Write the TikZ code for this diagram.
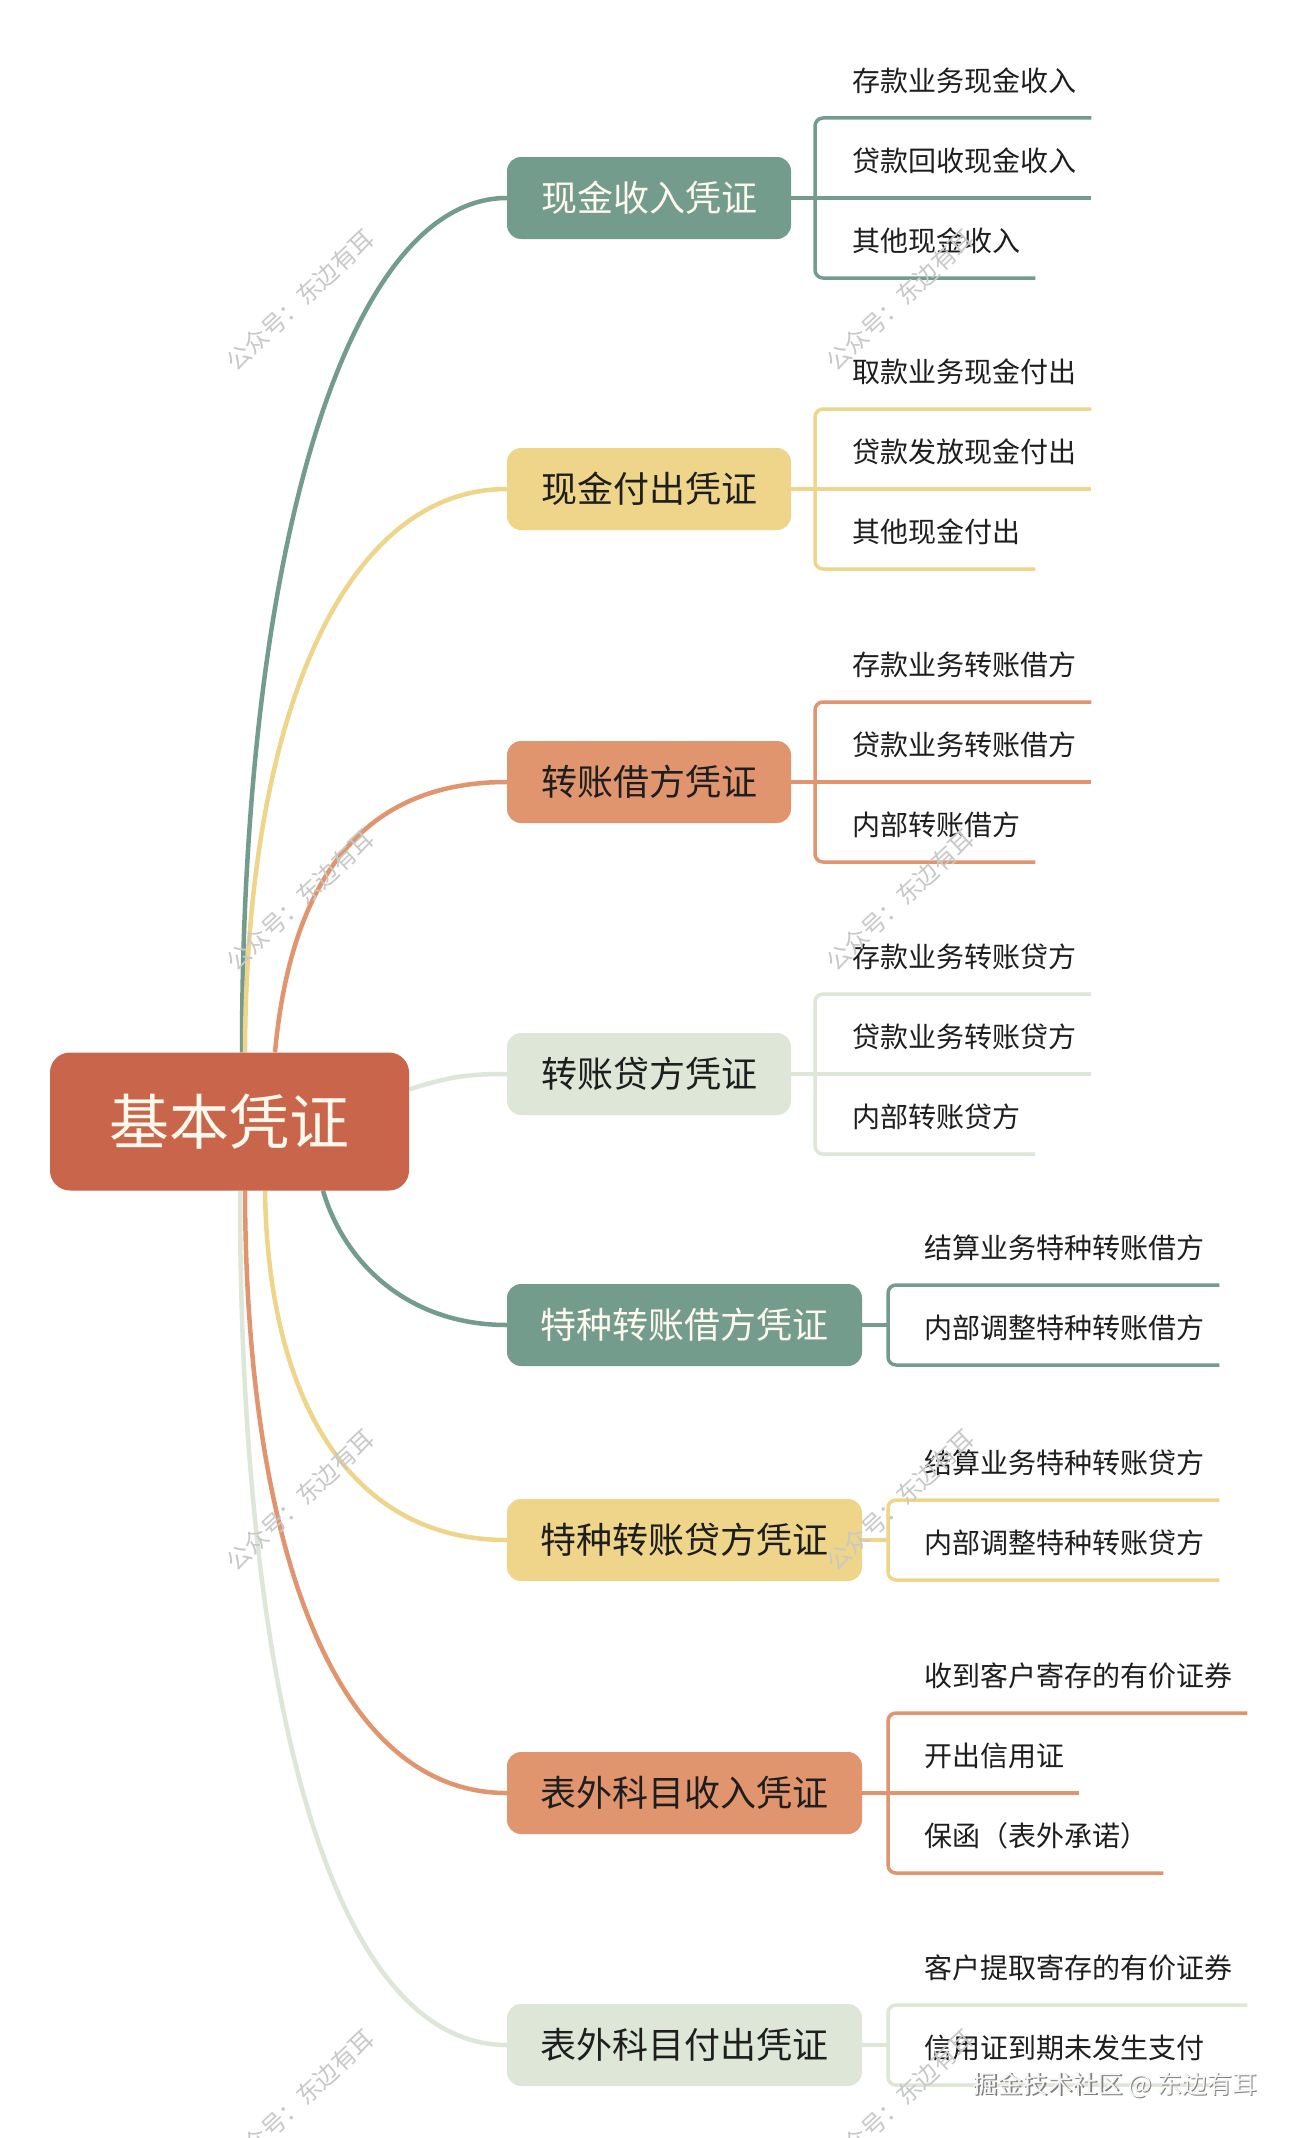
\documentclass[tikz,border=0pt]{standalone}
\usepackage{fontspec}
\newfontfamily\cjk{Noto Sans CJK SC}
\usetikzlibrary{backgrounds}
\definecolor{rootc}{HTML}{C9654B}
\definecolor{greenc}{HTML}{739C8D}
\definecolor{yellowc}{HTML}{EFD58A}
\definecolor{orangec}{HTML}{E1956F}
\definecolor{lightc}{HTML}{DEE6D8}
\definecolor{cream}{HTML}{FFF8EC}
\definecolor{leafc}{HTML}{1E1E1E}
\definecolor{wmc}{HTML}{C8C8C8}
\begin{document}
\begin{tikzpicture}[x=1pt,y=-1pt,
  rootbox/.style={fill=rootc, rounded corners=20pt, minimum width=359pt, minimum height=138pt, inner sep=0pt, text=cream, font=\cjk\fontsize{60}{60}\selectfont},
  lvone/.style={rounded corners=14pt, minimum height=82pt, inner sep=0pt, text=leafc, font=\cjk\fontsize{36}{36}\selectfont},
  lvshort/.style={lvone, minimum width=284pt},
  lvlong/.style={lvone, minimum width=355pt},
  leaf/.style={anchor=west, inner sep=0pt, text=leafc, font=\cjk\fontsize{28}{28}\selectfont},
  conn/.style={line width=4.5pt},
  under/.style={line width=3.5pt, rounded corners=8pt},
  wm/.style={rotate=43, text=wmc, inner sep=0pt, font=\cjk\fontsize{24}{24}\selectfont},
]
\useasboundingbox (0,0) rectangle (1298,2138);

% root and first level
\node[rootbox] (root) at (229.5,1121.5) {基本凭证};
\node[lvshort, fill=greenc, text=cream] (b1) at (649,198) {现金收入凭证};
\node[lvshort, fill=yellowc] (b2) at (649,489) {现金付出凭证};
\node[lvshort, fill=orangec] (b3) at (649,782) {转账借方凭证};
\node[lvshort, fill=lightc] (b4) at (649,1074) {转账贷方凭证};
\node[lvlong, fill=greenc, text=cream] (b5) at (684.5,1325) {特种转账借方凭证};
\node[lvlong, fill=yellowc] (b6) at (684.5,1540) {特种转账贷方凭证};
\node[lvlong, fill=orangec] (b7) at (684.5,1793) {表外科目收入凭证};
\node[lvlong, fill=lightc] (b8) at (684.5,2045) {表外科目付出凭证};

% leaves
\node[leaf] (c11) at (852,81) {存款业务现金收入};
\node[leaf] (c12) at (852,161) {贷款回收现金收入};
\node[leaf] (c13) at (852,241) {其他现金收入};
\node[leaf] (c21) at (852,372) {取款业务现金付出};
\node[leaf] (c22) at (852,452) {贷款发放现金付出};
\node[leaf] (c23) at (852,532) {其他现金付出};
\node[leaf] (c31) at (852,665) {存款业务转账借方};
\node[leaf] (c32) at (852,745) {贷款业务转账借方};
\node[leaf] (c33) at (852,825) {内部转账借方};
\node[leaf] (c41) at (852,957) {存款业务转账贷方};
\node[leaf] (c42) at (852,1037) {贷款业务转账贷方};
\node[leaf] (c43) at (852,1117) {内部转账贷方};
\node[leaf] (c51) at (924,1248) {结算业务特种转账借方};
\node[leaf] (c52) at (924,1328) {内部调整特种转账借方};
\node[leaf] (c61) at (924,1463) {结算业务特种转账贷方};
\node[leaf] (c62) at (924,1543) {内部调整特种转账贷方};
\node[leaf] (c71) at (924,1676) {收到客户寄存的有价证券};
\node[leaf] (c72) at (924,1756) {开出信用证};
\node[leaf] (c73) at (924,1836) {保函（表外承诺）};
\node[leaf] (c81) at (924,1968) {客户提取寄存的有价证券};
\node[leaf] (c82) at (924,2048) {信用证到期未发生支付};

% line coordinates
\coordinate (l11) at (815,118); \coordinate (l12) at (815,198); \coordinate (l13) at (815,278);
\coordinate (l21) at (815,409); \coordinate (l22) at (815,489); \coordinate (l23) at (815,569);
\coordinate (l31) at (815,702); \coordinate (l32) at (815,782); \coordinate (l33) at (815,862);
\coordinate (l41) at (815,994); \coordinate (l42) at (815,1074); \coordinate (l43) at (815,1154);
\coordinate (l51) at (888,1285); \coordinate (l52) at (888,1365);
\coordinate (l61) at (888,1500); \coordinate (l62) at (888,1580);
\coordinate (l71) at (888,1713); \coordinate (l72) at (888,1793); \coordinate (l73) at (888,1873);
\coordinate (l81) at (888,2005); \coordinate (l82) at (888,2085);

\begin{pgfonlayer}{background}
\fill[white] (0,0) rectangle (1298,2138);
% main curves
\draw[conn, greenc]  ([xshift=12.5pt]root.north) .. controls (242,540) and (350,198) .. (b1.west);
\draw[conn, yellowc] ([xshift=15.5pt]root.north) .. controls (246,714) and (345,489) .. (b2.west);
\draw[conn, orangec] ([xshift=45.5pt]root.north) .. controls (290,890) and (355,782) .. (b3.west);
\draw[conn, lightc]  ([yshift=32pt]root.east) .. controls (450,1076) and (470,1074) .. (b4.west);
\draw[conn, greenc]  ([xshift=93.5pt]root.south) .. controls (345,1265) and (410,1325) .. (b5.west);
\draw[conn, yellowc] ([xshift=35.5pt]root.south) .. controls (268,1400) and (350,1540) .. (b6.west);
\draw[conn, orangec] ([xshift=15.5pt]root.south) .. controls (246,1553) and (337,1793) .. (b7.west);
\draw[conn, lightc]  ([xshift=10.5pt]root.south) .. controls (240,1704) and (333,2045) .. (b8.west);
\end{pgfonlayer}

% brackets and underlines
\draw[under, greenc] ([xshift=15pt]c11.east |- l11) -- (l11) -- (l13) -- ([xshift=15pt]c13.east |- l13);
\draw[under, greenc] (b1.east) -- ([xshift=15pt]c12.east |- l12);
\draw[under, yellowc] ([xshift=15pt]c21.east |- l21) -- (l21) -- (l23) -- ([xshift=15pt]c23.east |- l23);
\draw[under, yellowc] (b2.east) -- ([xshift=15pt]c22.east |- l22);
\draw[under, orangec] ([xshift=15pt]c31.east |- l31) -- (l31) -- (l33) -- ([xshift=15pt]c33.east |- l33);
\draw[under, orangec] (b3.east) -- ([xshift=15pt]c32.east |- l32);
\draw[under, lightc] ([xshift=15pt]c41.east |- l41) -- (l41) -- (l43) -- ([xshift=15pt]c43.east |- l43);
\draw[under, lightc] (b4.east) -- ([xshift=15pt]c42.east |- l42);
\draw[under, greenc] ([xshift=15pt]c51.east |- l51) -- (l51) -- (l52) -- ([xshift=15pt]c52.east |- l52);
\draw[under, greenc] (b5.east) -- (b5.east -| l51);
\draw[under, yellowc] ([xshift=15pt]c61.east |- l61) -- (l61) -- (l62) -- ([xshift=15pt]c62.east |- l62);
\draw[under, yellowc] (b6.east) -- (b6.east -| l61);
\draw[under, orangec] ([xshift=15pt]c71.east |- l71) -- (l71) -- (l73) -- ([xshift=15pt]c73.east |- l73);
\draw[under, orangec] (b7.east) -- ([xshift=15pt]c72.east |- l72);
\draw[under, lightc] ([xshift=15pt]c81.east |- l81) -- (l81) -- (l82) -- ([xshift=15pt]c82.east |- l82);
\draw[under, lightc] (b8.east) -- (b8.east -| l81);

% watermarks
\foreach \wx in {300,900} {
  \foreach \wy in {300,900,1500,2100} {
    \node[wm] (wm-\wx-\wy) at (\wx,\wy) {公众号：东边有耳};
  }
}
\node[inner sep=0pt, text=gray, font=\cjk\fontsize{25}{25}\selectfont] (jjs) at (1116.5,2086.5) {掘金技术社区 @ 东边有耳};
\node[inner sep=0pt, text=white!96!black, font=\cjk\fontsize{25}{25}\selectfont] (jj) at (1115,2085) {掘金技术社区 @ 东边有耳};
\end{tikzpicture}
\end{document}
